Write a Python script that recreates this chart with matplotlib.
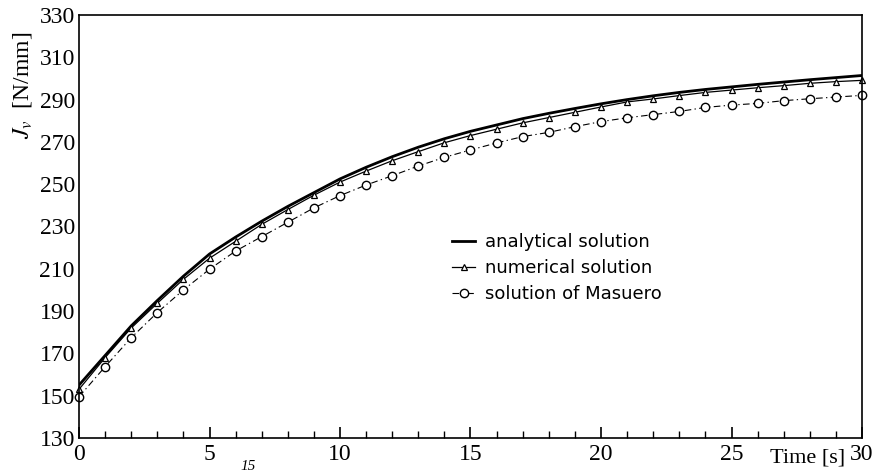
import matplotlib
matplotlib.use("Agg")
import matplotlib.pyplot as plt
from matplotlib.ticker import MultipleLocator

plt.rcParams["mathtext.fontset"] = "stix"

# Values
time_s = list(range(0, 31))

analytical = [155, 169, 183, 195, 206.5, 217, 225, 232.5, 239.5, 246, 252.5,
              258, 263, 267.5, 271.5, 275, 278, 281, 283.5, 285.8, 288,
              290, 291.8, 293.4, 294.8, 296, 297.2, 298.3, 299.4, 300.4, 301.4]

numerical = [153, 168, 182, 193.7, 205, 215, 223, 231, 238, 244.8, 251,
             256.2, 261.1, 265.4, 269.6, 273, 276, 279, 281.5, 284, 286.5,
             288.9, 290.3, 291.9, 293.4, 294.5, 295.6, 296.6, 297.7, 298.5, 299.1]

masuero = [149.5, 163.7, 177.4, 189.3, 200, 209.8, 218.4, 225.2, 232, 238.8, 244.6,
           249.6, 254, 258.6, 262.7, 266.2, 269.5, 272.5, 274.5, 277.2, 279.6,
           281.4, 282.9, 284.4, 286.3, 287.4, 288.2, 289.5, 290.4, 291.2, 292]

yticks = [130, 150, 170, 190, 210, 230, 250, 270, 290, 310, 330]

serif = ["Liberation Serif", "DejaVu Serif"]

fig = plt.figure(figsize=(8.73, 4.76), dpi=100)
ax = fig.add_axes([79 / 873, 1 - 438 / 476, 783 / 873, 423 / 476])

ax.plot(time_s, analytical, color="black", lw=2.0, label="analytical solution")
ax.plot(time_s, numerical, color="black", lw=0.9, marker="^", ms=4.5,
        mfc="white", mew=0.9, clip_on=False, label="numerical solution")
ax.plot(time_s, masuero, color="black", lw=0.8, dashes=(6, 3, 1.2, 3),
        marker="o", ms=6, mfc="white", mew=1.0, clip_on=False,
        label="solution of Masuero")

ax.set_xlim(0, 30)
ax.set_ylim(130, 330)
ax.xaxis.set_major_locator(MultipleLocator(5))
ax.xaxis.set_minor_locator(MultipleLocator(1))
ax.set_yticks(yticks)

ax.tick_params(axis="x", which="major", direction="in", length=8, width=1.2, pad=4)
ax.tick_params(axis="x", which="minor", direction="in", length=5, width=1.0)
ax.tick_params(axis="y", which="both", length=0, pad=3)
for lab in ax.get_xticklabels() + ax.get_yticklabels():
    lab.set_family(serif)
    lab.set_fontsize(17)

for sp in ax.spines.values():
    sp.set_linewidth(1.2)

ax.set_xlabel("Time [s]", family=serif, fontsize=16)
ax.xaxis.set_label_coords(0.931, -0.026)

fig.text(22 / 873, 1 - 85 / 476, r"$J_v$  [N/mm]", rotation=90, ha="center",
         va="center", family=serif, fontsize=17)

fig.text(248 / 873, 1 - 467 / 476, "15", style="italic", family=serif,
         fontsize=11, ha="center", va="center")

leg = ax.legend(loc="upper left", bbox_to_anchor=(452 / 873, 1 - 233 / 476),
                bbox_transform=fig.transFigure, frameon=False,
                prop={"family": ["DejaVu Sans"], "size": 13},
                handlelength=1.3, handletextpad=0.55, labelspacing=0.45,
                borderpad=0, borderaxespad=0)

fig.savefig("out.png", dpi=100)
